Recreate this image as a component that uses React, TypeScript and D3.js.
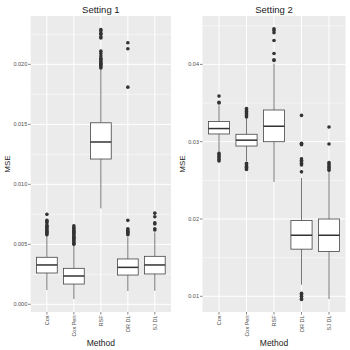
import * as d3 from 'd3';

const methods = ['Cox', 'Cox Pen', 'RSF', 'DR DL', 'SJ DL'];

// Setting 1: [whiskerLow, q1, median, q3, whiskerHigh]
const s1Stats = [
  [0.00119, 0.00261, 0.00328, 0.00392, 0.00575],
  [0.00044, 0.00169, 0.00236, 0.0030, 0.0049],
  [0.0080, 0.01211, 0.01353, 0.01513, 0.0196],
  [0.00111, 0.00244, 0.00308, 0.00378, 0.0056],
  [0.00113, 0.00253, 0.00328, 0.0040, 0.0060],
];
const s1Outliers = [
  [0.0058, 0.0059, 0.006, 0.0061, 0.0062, 0.0063, 0.0064, 0.0065, 0.0066, 0.0068, 0.0069, 0.007, 0.0075],
  [0.005, 0.0051, 0.0052, 0.0053, 0.0054, 0.0055, 0.0056, 0.0057, 0.0058, 0.0059, 0.006, 0.0061, 0.0062, 0.0063, 0.0064, 0.00655],
  [0.0197, 0.0198, 0.0199, 0.02, 0.0201, 0.0202, 0.0203, 0.0204, 0.0205, 0.0207, 0.0209, 0.0211, 0.0222, 0.0223, 0.0225, 0.0226, 0.0228, 0.0229],
  [0.0058, 0.0059, 0.006, 0.0061, 0.0062, 0.0063, 0.007, 0.0181, 0.0213, 0.0218],
  [0.0062, 0.0063, 0.0067, 0.0068, 0.0073, 0.0076],
];

// Setting 2
const s2Stats = [
  [0.0287, 0.0310, 0.0317, 0.0326, 0.0347],
  [0.0275, 0.02944, 0.0302, 0.03096, 0.0330],
  [0.0248, 0.0300, 0.0320, 0.0341, 0.0401],
  [0.0115, 0.0161, 0.0179, 0.0198, 0.0253],
  [0.00965, 0.0158, 0.0179, 0.0200, 0.0262],
];
const s2Outliers = [
  [0.0275, 0.0277, 0.0279, 0.0281, 0.0283, 0.0285, 0.035, 0.0351, 0.0359],
  [0.0264, 0.0265, 0.0267, 0.0268, 0.027, 0.0272, 0.0332, 0.0334, 0.0336, 0.0337, 0.0339, 0.0341, 0.0343],
  [0.0405, 0.0406, 0.0414, 0.0431, 0.0441, 0.0444, 0.0446],
  [0.0096, 0.0097, 0.01, 0.0102, 0.0104, 0.0261, 0.027, 0.0272, 0.0274, 0.0276, 0.0278, 0.0296, 0.0297, 0.0298, 0.0334],
  [0.0263, 0.0265, 0.0267, 0.0269, 0.0271, 0.0273, 0.0297, 0.0319],
];

const s1Ticks = [0, 0.005, 0.01, 0.015, 0.02];
const s2Ticks = [0.01, 0.02, 0.03, 0.04];

const FONT = 'Liberation Sans, Arial, sans-serif';

function Panel({ title, stats, outliers, yDomain, ticks, fmt, x0, x1, labelX }) {
  const top = 16;
  const bottom = 312;
  const x = d3.scalePoint().domain(methods).range([x0, x1]).padding(0.6);
  const y = d3.scaleLinear().domain(yDomain).range([bottom, top]);
  const step = x.step();
  const bw = step * 0.77;
  const minor = ticks.map((t, i) => t + (ticks[1] - ticks[0]) / 2).concat([ticks[0] - (ticks[1] - ticks[0]) / 2])
    .filter(v => v > yDomain[0] && v < yDomain[1]);
  const f = d3.format(fmt);
  const cx = (x0 + x1) / 2;

  return (
    <g fontFamily={FONT}>
      <rect x={x0} y={top} width={x1 - x0} height={bottom - top} fill="#EBEBEB" />
      {minor.map(v => (
        <line key={'mn' + v} x1={x0} x2={x1} y1={y(v)} y2={y(v)} stroke="#fff" strokeWidth={0.5} />
      ))}
      {ticks.map(v => (
        <line key={'mj' + v} x1={x0} x2={x1} y1={y(v)} y2={y(v)} stroke="#fff" strokeWidth={1} />
      ))}
      {methods.map(m => (
        <line key={'vx' + m} x1={x(m)} x2={x(m)} y1={top} y2={bottom} stroke="#fff" strokeWidth={1} />
      ))}
      {methods.map((m, i) => {
        const [lo, q1, med, q3, hi] = stats[i];
        const c = x(m);
        return (
          <g key={'b' + m}>
            <line x1={c} x2={c} y1={y(hi)} y2={y(q3)} stroke="#555" strokeWidth={0.8} />
            <line x1={c} x2={c} y1={y(q1)} y2={y(lo)} stroke="#555" strokeWidth={0.8} />
            <rect x={c - bw / 2} y={y(q3)} width={bw} height={y(q1) - y(q3)} fill="#fff" stroke="#444" strokeWidth={0.8} />
            <line x1={c - bw / 2} x2={c + bw / 2} y1={y(med)} y2={y(med)} stroke="#333" strokeWidth={1.5} />
            {outliers[i].map((v, j) => (
              <circle key={j} cx={c} cy={y(v)} r={1.8} fill="#333" />
            ))}
          </g>
        );
      })}
      {ticks.map(v => (
        <g key={'yt' + v}>
          <line x1={x0 - 2.5} x2={x0} y1={y(v)} y2={y(v)} stroke="#333" strokeWidth={0.6} />
          <text x={x0 - 3.5} y={y(v)} dy="0.35em" textAnchor="end" fontSize={5.5} fill="#4D4D4D">{f(v)}</text>
        </g>
      ))}
      {methods.map(m => (
        <g key={'xt' + m}>
          <line x1={x(m)} x2={x(m)} y1={bottom} y2={bottom + 2.5} stroke="#333" strokeWidth={0.6} />
          <text transform={`translate(${x(m) + 2},${bottom + 3.5}) rotate(-90)`} textAnchor="end" fontSize={5.5} fill="#4D4D4D">{m}</text>
        </g>
      ))}
      <text x={cx} y={12.5} textAnchor="middle" fontSize={9.5} fill="#1a1a1a">{title}</text>
      <text x={cx} y={346} textAnchor="middle" fontSize={8.5} fill="#1a1a1a">Method</text>
      <text transform={`translate(${labelX},${(top + bottom) / 2}) rotate(-90)`} textAnchor="middle" fontSize={8} fill="#1a1a1a">MSE</text>
    </g>
  );
}

export default function App() {
  return (
    <svg width={350} height={350} style={{ position: 'absolute', left: 0, top: 0, background: '#fff' }}>
      <Panel title="Setting 1" stats={s1Stats} outliers={s1Outliers} yDomain={[-0.00064, 0.02403]}
        ticks={s1Ticks} fmt=".3f" x0={30.7} x1={171} labelX={9.5} />
      <Panel title="Setting 2" stats={s2Stats} outliers={s2Outliers} yDomain={[0.00797, 0.04626]}
        ticks={s2Ticks} fmt=".2f" x0={202.5} x1={345.5} labelX={185} />
    </svg>
  );
}
